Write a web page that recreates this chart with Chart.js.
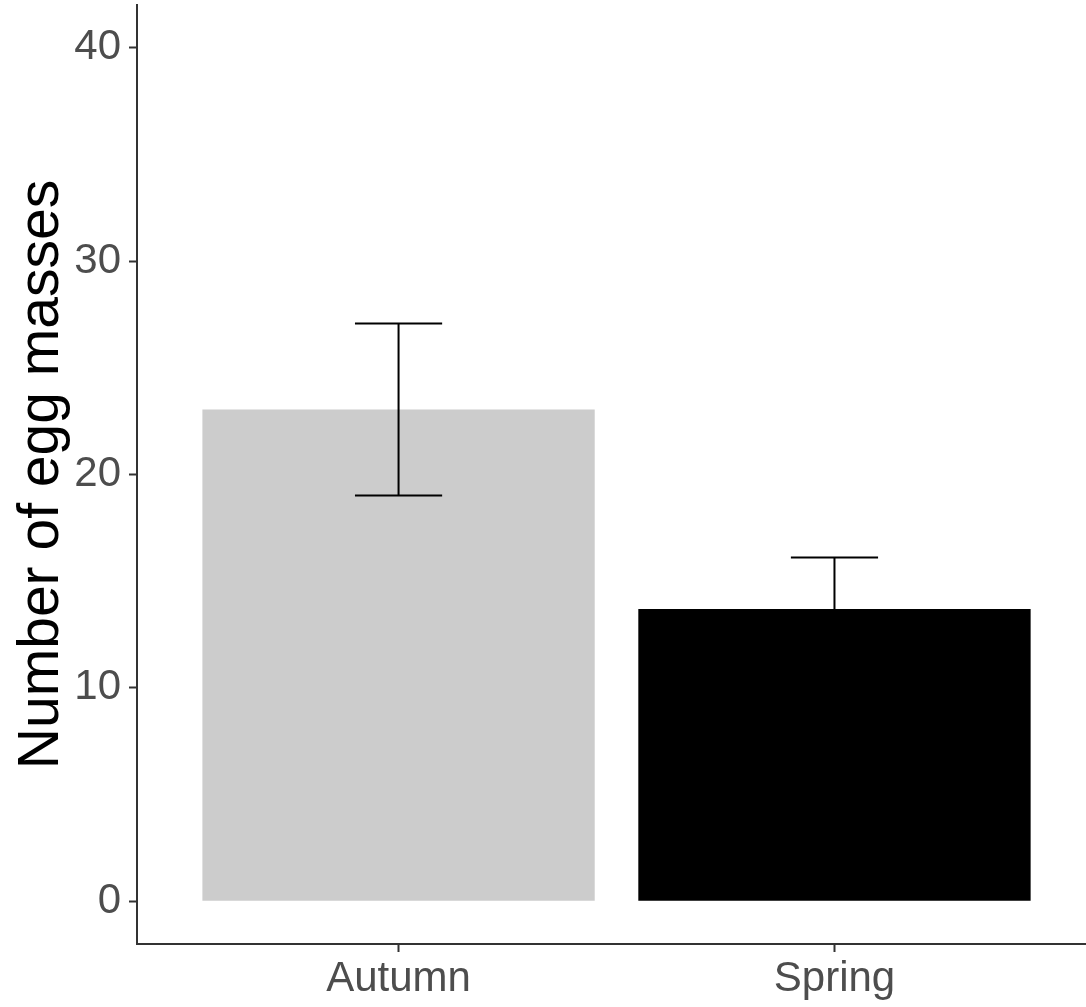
<!DOCTYPE html>
<html>
<head>
<meta charset="utf-8">
<title>Number of egg masses</title>
<script src="https://cdn.jsdelivr.net/npm/chart.js@4.4.1/dist/chart.umd.min.js"></script>
<style>
    html, body { margin: 0; padding: 0; background: #ffffff; }
    #eggChart { display: block; }
</style>
</head>
<body>
<canvas id="eggChart" width="1086" height="1007"></canvas>
<script>
// =============================
// DATA
// =============================
const seasons = ['Autumn', 'Spring'];
const seasonPos = [1, 2];            // discrete positions on the x axis
const eggMeans = [23.05, 13.70];     // mean number of egg masses
const eggSE = [4.03, 2.41];          // error bar half-width
const yTicks = [0, 10, 20, 30, 40];

const FONT = '"Liberation Sans", Arial, Helvetica, sans-serif';
const AXIS_COLOR = '#333333';
const TICK_TEXT = '#4d4d4d';

// ==============================
// Error bars (drawn on top of the bars)
// ==============================
const errorBars = {
    id: 'errorBars',
    afterDatasetsDraw(chart) {
        const { ctx, scales: { x, y } } = chart;
        ctx.save();
        ctx.strokeStyle = '#000000';
        ctx.lineWidth = 2;
        seasonPos.forEach((pos, i) => {
            const cx = x.getPixelForValue(pos);
            const left = x.getPixelForValue(pos - 0.1);
            const right = x.getPixelForValue(pos + 0.1);
            const top = y.getPixelForValue(eggMeans[i] + eggSE[i]);
            const bottom = y.getPixelForValue(eggMeans[i] - eggSE[i]);
            ctx.beginPath();
            ctx.moveTo(cx, top); ctx.lineTo(cx, bottom);
            ctx.moveTo(left, top); ctx.lineTo(right, top);
            ctx.moveTo(left, bottom); ctx.lineTo(right, bottom);
            ctx.stroke();
        });
        ctx.restore();
    }
};

// ==============================
// Chart
// ==============================
const ctx = document.getElementById('eggChart').getContext('2d');
const eggChart = new Chart(ctx, {
    type: 'bar',
    data: {
        datasets: [{
            data: seasonPos.map((p, i) => ({ x: p, y: eggMeans[i] })),
            backgroundColor: ['#cccccc', '#000000'],
            borderWidth: 0,
            barPercentage: 0.9,
            categoryPercentage: 1.0
        }]
    },
    options: {
        responsive: false,
        animation: false,
        devicePixelRatio: 1,
        layout: { padding: { top: 5, right: 0, left: 0, bottom: 0 } },
        plugins: {
            legend: { display: false },
            tooltip: { enabled: false }
        },
        scales: {
            x: {
                type: 'linear',
                offset: false,
                min: 0.4,
                max: 2.577,
                afterBuildTicks: axis => {
                    axis.ticks = seasonPos.map(v => ({ value: v }));
                },
                afterFit: axis => {
                    axis.height = 63;
                    axis.paddingLeft = 0;
                    axis.paddingRight = 0;
                },
                ticks: {
                    callback: (value) => seasons[seasonPos.indexOf(value)],
                    color: TICK_TEXT,
                    font: { family: FONT, size: 42 },
                    padding: 2,
                    maxRotation: 0,
                    autoSkip: false
                },
                grid: {
                    offset: false,
                    drawOnChartArea: false,
                    drawTicks: true,
                    tickLength: 8,
                    tickColor: AXIS_COLOR,
                    tickWidth: 2
                },
                border: { display: true, color: AXIS_COLOR, width: 2 }
            },
            y: {
                type: 'linear',
                min: -2,
                max: 42,
                afterBuildTicks: axis => {
                    axis.ticks = yTicks.map(v => ({ value: v }));
                },
                afterFit: axis => {
                    axis.width = 137;
                    axis.paddingTop = 0;
                    axis.paddingBottom = 0;
                },
                ticks: {
                    color: TICK_TEXT,
                    font: { family: FONT, size: 42 },
                    padding: 8
                },
                grid: {
                    drawOnChartArea: false,
                    drawTicks: true,
                    tickLength: 8,
                    tickColor: AXIS_COLOR,
                    tickWidth: 2
                },
                border: { display: true, color: AXIS_COLOR, width: 2 },
                title: {
                    display: true,
                    text: 'Number of egg masses',
                    color: '#000000',
                    font: { family: FONT, size: 57 },
                    padding: { top: 8, bottom: 0 }
                }
            }
        }
    },
    plugins: [errorBars]
});
</script>
</body>
</html>
